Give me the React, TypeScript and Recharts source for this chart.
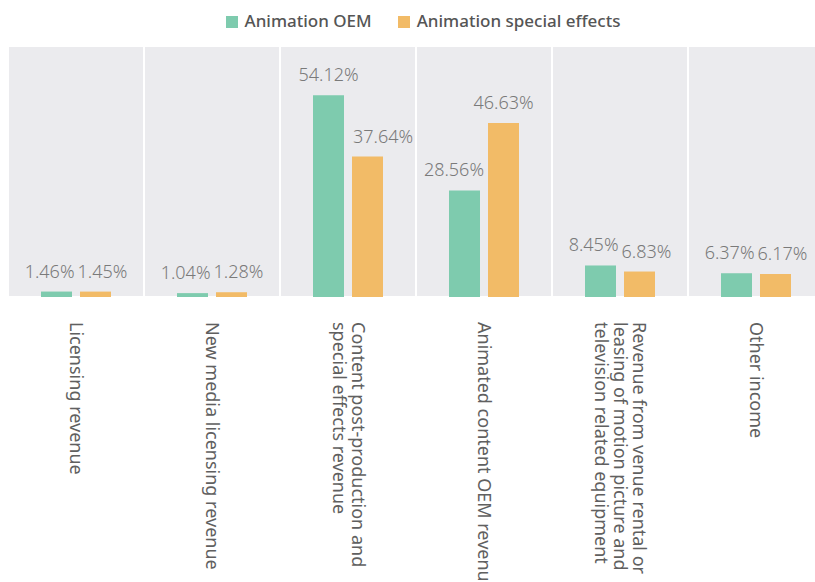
import React from 'react';
import { BarChart, Bar, XAxis, YAxis, Legend, LabelList, ReferenceArea } from 'recharts';

const categories = [
  'Licensing revenue',
  'New media licensing revenue',
  'Content post-production and special effects revenue',
  'Animated content OEM revenue',
  'Revenue from venue rental or leasing of motion picture and television related equipment',
  'Other income',
];
const oemValues = [1.46, 1.04, 54.12, 28.56, 8.45, 6.37];
const effectsValues = [1.45, 1.28, 37.64, 46.63, 6.83, 6.17];

const FONT = '"Noto Sans", "Open Sans", sans-serif';
const GREEN = '#7ecbae';
const ORANGE = '#f2bb67';
const LABEL_SIZE = 18;
const LABEL_OFFSET = 14;
const BAR_GAP = 8;

const data = categories.map((name, i) => ({
  name,
  oem: oemValues[i],
  effects: effectsValues[i],
}));

const fmt = (v: any) => `${Number(v).toFixed(2)}%`;

let ctx: CanvasRenderingContext2D | null = null;
const measure = (s: string) => {
  if (!ctx) ctx = document.createElement('canvas').getContext('2d');
  if (!ctx) return s.length * LABEL_SIZE * 0.56;
  ctx.font = `300 ${LABEL_SIZE}px ${FONT}`;
  return ctx.measureText(s).width;
};

// wrap a long category name into lines of at most maxChars
const wrap = (text: string, maxChars: number) => {
  const lines: string[] = [];
  let cur = '';
  text.split(' ').forEach((w) => {
    const next = cur ? cur + ' ' + w : w;
    if (next.length > maxChars && cur) {
      lines.push(cur);
      cur = w;
    } else {
      cur = next;
    }
  });
  if (cur) lines.push(cur);
  return lines;
};

const VerticalTick = (props: any) => {
  const { x, y, payload } = props;
  const lines = wrap(payload.value, 30);
  const lh = 19;
  const first = -((lines.length - 1) * lh) / 2 + 6;
  return (
    <g transform={`translate(${x},${y + 17}) rotate(90)`}>
      <text x={0} y={0} textAnchor="start" fill="#606060" fontSize={18} fontFamily={FONT}>
        {lines.map((l, i) => (
          <tspan key={i} x={0} dy={i === 0 ? first : lh}>
            {l}
          </tspan>
        ))}
      </text>
    </g>
  );
};

// nudge value labels sideways so they don't sit on the neighbouring bar or label
const labelCenters = (index: number, isOem: boolean, x: number, y: number, width: number, height: number) => {
  const g = oemValues[index];
  const o = effectsValues[index];
  const own = isOem ? g : o;
  const base = y + height;
  const perUnit = own ? height / own : 0;
  const gx = isOem ? x : x - width - BAR_GAP;
  const ox = gx + width + BAR_GAP;
  const gTop = base - g * perUnit;
  const oTop = base - o * perUnit;
  const gBottom = gTop - LABEL_OFFSET;
  const oBottom = oTop - LABEL_OFFSET;
  const wG = measure(fmt(g));
  const wO = measure(fmt(o));
  let gc = gx + width / 2;
  let oc = ox + width / 2;
  let moved = false;
  if (oTop < gBottom) {
    gc = Math.min(gc, ox - 4 - wG / 2);
    moved = true;
  }
  if (gTop < oBottom) {
    oc = Math.max(oc, gx + width + 9 + wO / 2);
    moved = true;
  }
  if (!moved && Math.abs(gBottom - oBottom) < 16) {
    const need = gc + wG / 2 + 3 - (oc - wO / 2);
    if (need > 0) {
      gc -= need / 2;
      oc += need / 2;
    }
  }
  return isOem ? gc : oc;
};

const makeLabel = (isOem: boolean) => (props: any) => {
  const { x, y, width, height, value, index } = props;
  const cx = labelCenters(index, isOem, Number(x), Number(y), Number(width), Number(height));
  return (
    <text
      x={cx}
      y={Number(y) - LABEL_OFFSET}
      textAnchor="middle"
      fill="#7a7a7a"
      fontSize={LABEL_SIZE}
      fontWeight={300}
      fontFamily={FONT}
    >
      {fmt(value)}
    </text>
  );
};

export default function App() {
  return (
    <div
      style={{
        position: 'fixed',
        left: 8,
        top: 8,
        width: 807,
        height: 574,
        overflow: 'hidden',
        background: '#fff',
      }}
    >
      <BarChart
        width={816}
        height={590}
        data={data}
        margin={{ top: 10, right: 0, left: 0, bottom: 0 }}
        barSize={31}
        barGap={BAR_GAP}
      >
        {categories.map((c) => (
          <ReferenceArea
            key={c}
            x1={c}
            x2={c}
            fill="#ebebee"
            fillOpacity={1}
            stroke="#ffffff"
            strokeWidth={2}
            ifOverflow="visible"
          />
        ))}
        <XAxis
          dataKey="name"
          interval={0}
          height={301}
          axisLine={false}
          tickLine={false}
          tick={<VerticalTick />}
        />
        <YAxis hide domain={[0, 67.3]} />
        <Legend
          verticalAlign="top"
          align="center"
          iconType="square"
          iconSize={12}
          height={28}
          wrapperStyle={{ fontFamily: FONT, fontSize: 17, top: 1, left: 12 }}
          formatter={(value: string, _entry: any, index: number) => (
            <span
              style={{ color: '#555', fontWeight: 500, marginLeft: 3, marginRight: index === 0 ? 16 : 0 }}
            >
              {value}
            </span>
          )}
        />
        <Bar dataKey="oem" name="Animation OEM" fill={GREEN} isAnimationActive={false}>
          <LabelList dataKey="oem" content={makeLabel(true)} />
        </Bar>
        <Bar dataKey="effects" name="Animation special effects" fill={ORANGE} isAnimationActive={false}>
          <LabelList dataKey="effects" content={makeLabel(false)} />
        </Bar>
      </BarChart>
    </div>
  );
}
